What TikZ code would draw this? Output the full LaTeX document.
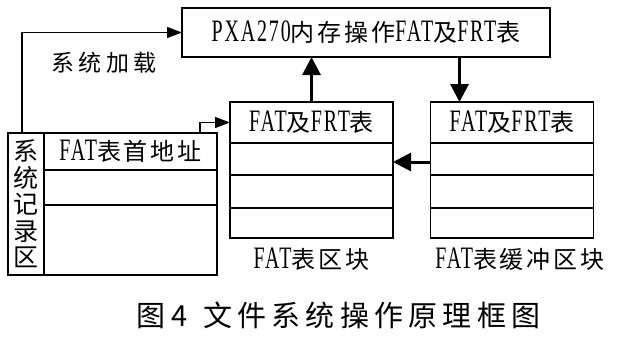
\documentclass[tikz,border=0pt]{standalone}
\usepackage{fontspec}
\setmainfont{Liberation Serif}
\newfontfamily\cjk[LetterSpace=12]{Noto Sans CJK SC}
\newfontfamily\cjkplain{Noto Sans CJK SC}
\newfontfamily\cjkwide[LetterSpace=18]{Noto Sans CJK SC}
\newfontfamily\lat[Scale=1.3,FakeStretch=0.64,LetterSpace=6]{Liberation Serif}
\usetikzlibrary{positioning, arrows.meta}

\begin{document}
\begin{tikzpicture}[x=1pt, y=-1pt,
    cell/.style={draw, line width=1.6pt, outer sep=0pt, inner sep=0pt,
        minimum width=#1, font=\cjk\fontsize{24}{28}\selectfont},
    thinarrow/.style={line width=1.6pt, -{Triangle[length=15pt, width=11pt]}},
    bigarrow/.style={line width=3pt, -{Triangle[length=18pt, width=18pt]}},
    caption/.style={inner sep=0pt, font=\cjk\fontsize{24}{28}\selectfont}]
    \useasboundingbox (0,0) rectangle (620,340);

    % Memory operation box
    \node[cell=368, minimum height=49] (mem) at (366,32.5)
        {{\lat PXA270}内存操作{\lat FAT}及{\lat FRT}表};

    % System record area
    \node[cell=36, minimum height=142, align=center,
        font=\cjkplain\fontsize{25}{26.4}\selectfont] (sysname) at (26,204)
        {系\\统\\记\\录\\区};
    \node[cell=173, minimum height=37, anchor=north west] (addr0)
        at (sysname.north east) {{\lat FAT}表首地址};
    \node[cell=173, minimum height=35, below=0pt of addr0] (addr1) {};
    \node[cell=173, minimum height=70, below=0pt of addr1] (addr2) {};

    % FAT block and buffer block
    \node[cell=163, minimum height=41, anchor=north west] (fat0) at (230,102)
        {{\lat FAT}及{\lat FRT}表};
    \node[cell=163, minimum height=41, anchor=north west] (buf0) at (430.5,102)
        {{\lat FAT}及{\lat FRT}表};
    \foreach \blk in {fat,buf} {
        \foreach \p/\n/\h in {0/1/32, 1/2/33, 2/3/30} {
            \node[cell=163, minimum height=\h, below=0pt of \blk\p] (\blk\n) {};
        }
    }

    % Labels
    \node[caption, font=\cjkwide\fontsize{23}{26}\selectfont] (load) at (104,63) {系统加载};
    \node[caption, below=10pt of fat3] (fatlbl) {{\lat FAT}表区块};
    \node[caption, below=10pt of buf3, xshift=8pt] (buflbl) {{\lat FAT}表缓冲区块};
    \node[caption, anchor=west, font=\cjkwide\fontsize{29}{32}\selectfont] (title) at (136,315)
        {图\hspace{6pt}4\hspace{16pt}文件系统操作原理框图};

    % Arrows
    \draw[thinarrow] ([xshift=-4pt]sysname.north) |- (mem.west);
    \draw[thinarrow] ([xshift=-17pt]addr0.north east) |- (fat0.west);
    \draw[bigarrow] (fat0.north) -- (fat0.north |- mem.south);
    \coordinate (down) at ([xshift=29pt]buf0.north west);
    \draw[bigarrow] (down |- mem.south) -- (down);
    \draw[bigarrow] ([yshift=-3pt]buf1.west) -- ([yshift=-3pt]fat1.east);
\end{tikzpicture}
\end{document}
